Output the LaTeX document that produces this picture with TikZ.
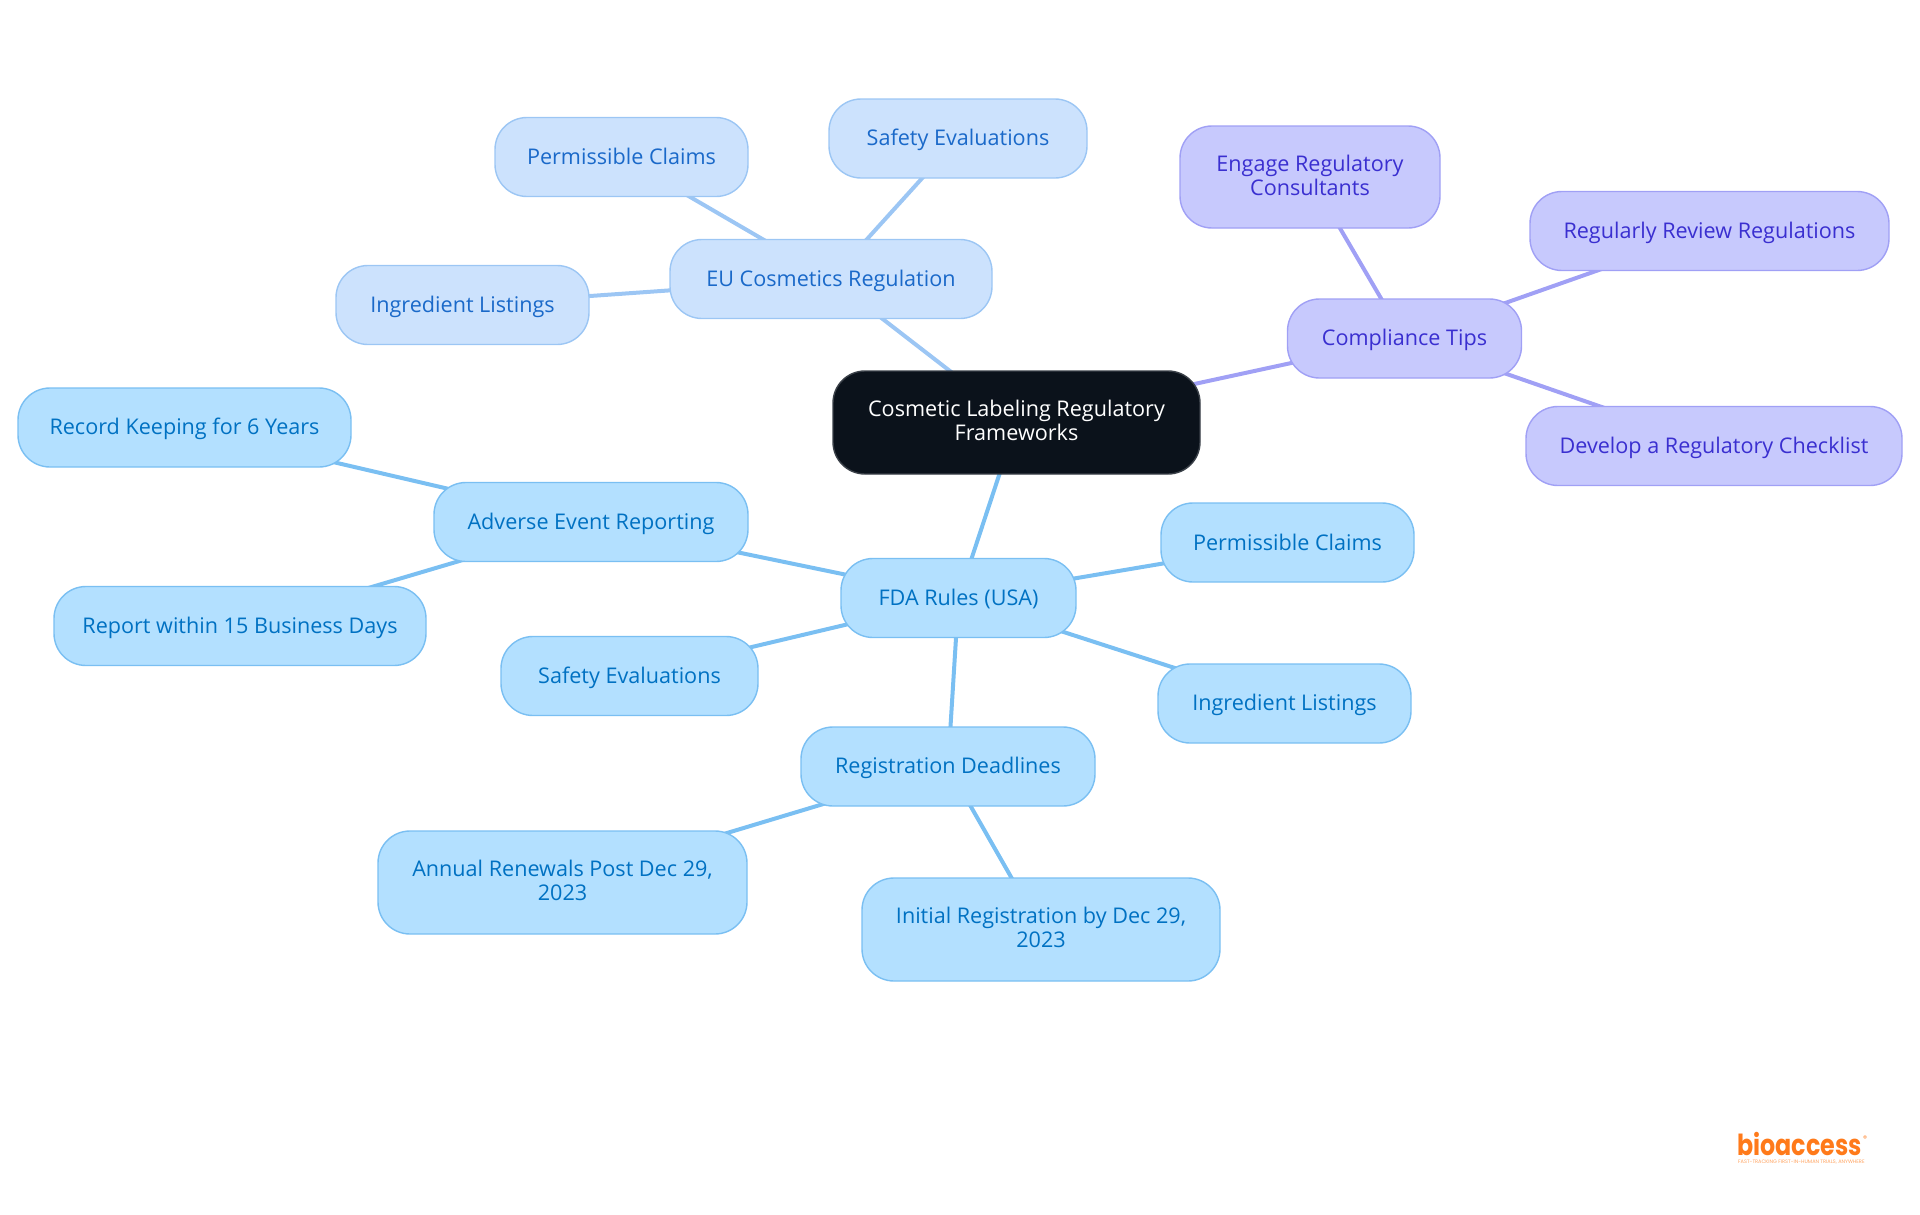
\documentclass[tikz,border=0pt]{standalone}
\usepackage{fontspec}
\setmainfont{Open Sans}
\newfontfamily\logofont{Poppins}
\usetikzlibrary{backgrounds}
\newcommand{\linestrut}{\rule[-4.3pt]{0pt}{24pt}}
\definecolor{rootfill}{HTML}{0B121B}
\definecolor{rootline}{HTML}{3A4048}
\definecolor{fdafill}{HTML}{B3E0FF}
\definecolor{fdaline}{HTML}{7ABFF2}
\definecolor{fdatext}{HTML}{0071C2}
\definecolor{eufill}{HTML}{CCE2FD}
\definecolor{euline}{HTML}{9CC6F4}
\definecolor{eutext}{HTML}{1A69C9}
\definecolor{tipfill}{HTML}{C7C9FD}
\definecolor{tipline}{HTML}{A0A0F5}
\definecolor{tiptext}{HTML}{3A2FD0}
\definecolor{logoorange}{HTML}{FF7A1A}
\begin{document}
\begin{tikzpicture}[x=1pt, y=-1pt,
    box/.style={draw, rectangle, rounded corners=32pt, line width=1.4pt, inner sep=0pt, align=center,
      font=\fontsize{21.6}{24}\selectfont, execute at begin node=\linestrut, execute at end node=\linestrut},
    rootbox/.style={box, fill=rootfill, draw=rootline, text=white},
    fdabox/.style={box, fill=fdafill, draw=fdaline, text=fdatext},
    eubox/.style={box, fill=eufill, draw=euline, text=eutext},
    tipbox/.style={box, fill=tipfill, draw=tipline, text=tiptext},
    fdalink/.style={draw=fdaline, line width=4pt},
    eulink/.style={draw=euline, line width=4pt},
    tiplink/.style={draw=tipline, line width=4pt}]
  \useasboundingbox (0,0) rectangle (1920,1215);

  % centre
  \node[rootbox, minimum width=367pt, minimum height=103pt] (root) at (1016.5,422.5) {Cosmetic Labeling Regulatory\\Frameworks};

  % EU branch
  \node[eubox, minimum width=322pt, minimum height=79pt] (eu) at (831,279) {EU Cosmetics Regulation};
  \node[eubox, minimum width=253pt, minimum height=79pt] (euclaims) at (621.5,157) {Permissible Claims};
  \node[eubox, minimum width=258pt, minimum height=79pt] (eusafety) at (958,138.5) {Safety Evaluations};
  \node[eubox, minimum width=253pt, minimum height=79pt] (euingredients) at (462.5,305) {Ingredient Listings};

  % compliance branch
  \node[tipbox, minimum width=234pt, minimum height=79pt] (tips) at (1404.5,338.5) {Compliance Tips};
  \node[tipbox, minimum width=260pt, minimum height=102pt] (consultants) at (1310,177) {Engage Regulatory\\Consultants};
  \node[tipbox, minimum width=359pt, minimum height=79pt] (review) at (1709.5,231) {Regularly Review Regulations};
  \node[tipbox, minimum width=376pt, minimum height=79pt] (checklist) at (1714,446) {Develop a Regulatory Checklist};

  % FDA branch
  \node[fdabox, minimum width=235pt, minimum height=79pt] (fda) at (958.5,598) {FDA Rules (USA)};
  \node[fdabox, minimum width=314pt, minimum height=79pt] (adverse) at (591,522) {Adverse Event Reporting};
  \node[fdabox, minimum width=333pt, minimum height=79pt] (record) at (184.5,427.5) {Record Keeping for 6 Years};
  \node[fdabox, minimum width=372pt, minimum height=79pt] (report) at (240,626) {Report within 15 Business Days};
  \node[fdabox, minimum width=257pt, minimum height=79pt] (fdasafety) at (629.5,676) {Safety Evaluations};
  \node[fdabox, minimum width=253pt, minimum height=79pt] (fdaclaims) at (1287.5,542.5) {Permissible Claims};
  \node[fdabox, minimum width=253pt, minimum height=79pt] (fdaingredients) at (1284.5,703.5) {Ingredient Listings};
  \node[fdabox, minimum width=294pt, minimum height=79pt] (deadlines) at (948,766.5) {Registration Deadlines};
  \node[fdabox, minimum width=369pt, minimum height=103pt] (annual) at (562.5,882.5) {Annual Renewals Post Dec 29,\\2023};
  \node[fdabox, minimum width=358pt, minimum height=103pt] (initial) at (1041,929.5) {Initial Registration by Dec 29,\\2023};

  \begin{scope}[on background layer]
    \draw[eulink] (root.center) -- (eu.center);
    \draw[eulink] (eu.center) -- (euclaims.center);
    \draw[eulink] (eu.center) -- (eusafety.center);
    \draw[eulink] (eu.center) -- (euingredients.center);
    \draw[tiplink] (root.center) -- (tips.center);
    \draw[tiplink] (tips.center) -- (consultants.center);
    \draw[tiplink] (tips.center) -- (review.center);
    \draw[tiplink] (tips.center) -- (checklist.center);
    \draw[fdalink] (root.center) -- (fda.center);
    \draw[fdalink] (fda.center) -- (adverse.center);
    \draw[fdalink] (adverse.center) -- (record.center);
    \draw[fdalink] (adverse.center) -- (report.center);
    \draw[fdalink] (fda.center) -- (fdasafety.center);
    \draw[fdalink] (fda.center) -- (fdaclaims.center);
    \draw[fdalink] (fda.center) -- (fdaingredients.center);
    \draw[fdalink] (fda.center) -- (deadlines.center);
    \draw[fdalink] (deadlines.center) -- (annual.center);
    \draw[fdalink] (deadlines.center) -- (initial.center);
  \end{scope}

  % logo
  \node[inner sep=0pt, anchor=base west, text=logoorange, xscale=0.82, font=\logofont\bfseries\fontsize{29}{29}\selectfont] (logo) at (1737,1155) {bioaccess};
  \node[inner sep=0pt, anchor=west, text=logoorange, font=\logofont\fontsize{8}{8}\selectfont] (logomark) at (1863,1139) {®};
  \node[inner sep=0pt, anchor=base west, text=logoorange!70, font=\logofont\fontsize{5}{5}\selectfont] (tagline) at (1738,1163.5) {FAST-TRACKING FIRST-IN-HUMAN TRIALS, ANYWHERE};
\end{tikzpicture}
\end{document}
